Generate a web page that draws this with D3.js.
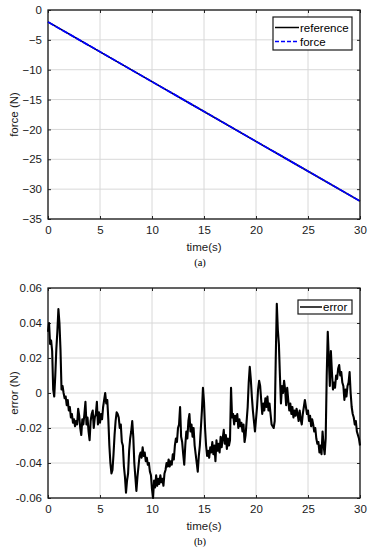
<!DOCTYPE html>
<html>
<head>
<meta charset="utf-8">
<script src="https://cdn.jsdelivr.net/npm/d3@7"></script>
<style>
  body { margin: 0; background: #fff; }
  svg text { font-family: "Liberation Sans", Arial, sans-serif; }
</style>
</head>
<body>
<div id="chart"></div>
<script>
// ---- data ----
var forceTime = [0, 5, 10, 15, 20, 25, 30];
var referenceValues = [-2, -7, -12, -17, -22, -27, -32];
var forceValues = [-2, -7, -12, -17, -22, -27, -32];

var forceTicksX = [0, 5, 10, 15, 20, 25, 30];
var forceTicksY = [0, -5, -10, -15, -20, -25, -30, -35];
var errorTicksY = [0.06, 0.04, 0.02, 0, -0.02, -0.04, -0.06];

var errorValues = [
  0.035, 0.040, 0.028, 0.030, 0.024, 0.002, -0.002, 0.010, 0.025, 0.035,
  0.048, 0.040, 0.025, 0.002, 0.004, 0.000, -0.003, -0.002, -0.007, -0.004,
  -0.010, -0.008, -0.014, -0.012, -0.017, -0.015, -0.019, -0.016, -0.018, -0.009,
  -0.013, -0.020, -0.024, -0.015, -0.018, -0.012, -0.005, -0.018, -0.014, -0.022,
  -0.027, -0.016, -0.012, -0.010, -0.020, -0.014, -0.012, -0.005, -0.018, -0.011,
  -0.017, -0.012, -0.015, -0.008, -0.004, 0.000, -0.006, -0.004, -0.015, -0.030,
  -0.040, -0.046, -0.044, -0.035, -0.024, -0.016, -0.011, -0.012, -0.014, -0.020,
  -0.018, -0.028, -0.030, -0.042, -0.048, -0.057, -0.050, -0.046, -0.033, -0.026,
  -0.022, -0.016, -0.025, -0.040, -0.048, -0.056, -0.048, -0.042, -0.036, -0.034,
  -0.037, -0.031, -0.036, -0.034, -0.039, -0.037, -0.041, -0.040, -0.045, -0.047,
  -0.055, -0.060, -0.050, -0.054, -0.047, -0.053, -0.049, -0.052, -0.047, -0.051,
  -0.049, -0.053, -0.046, -0.044, -0.040, -0.042, -0.038, -0.042, -0.039, -0.041,
  -0.035, -0.038, -0.030, -0.026, -0.028, -0.020, -0.018, -0.008, -0.025, -0.028,
  -0.035, -0.041, -0.030, -0.022, -0.026, -0.016, -0.012, -0.022, -0.018, -0.025,
  -0.020, -0.030, -0.035, -0.040, -0.045, -0.036, -0.030, -0.020, -0.010, 0.003,
  -0.005, -0.020, -0.030, -0.036, -0.033, -0.037, -0.031, -0.034, -0.028, -0.035,
  -0.030, -0.039, -0.027, -0.033, -0.029, -0.034, -0.025, -0.031, -0.026, -0.021,
  -0.029, -0.024, -0.032, -0.026, -0.030, -0.027, 0.003, -0.014, -0.012, -0.018,
  -0.013, -0.016, -0.012, -0.020, -0.015, -0.019, -0.017, -0.022, -0.018, -0.028,
  -0.024, -0.016, -0.008, 0.006, 0.015, 0.008, -0.002, -0.010, -0.016, -0.022,
  -0.015, -0.008, 0.002, 0.007, 0.004, -0.004, -0.012, -0.006, -0.010, -0.003,
  -0.008, -0.002, -0.010, -0.006, -0.012, -0.018, -0.019, -0.020, -0.016, 0.020,
  0.051, 0.036, 0.028, 0.010, -0.006, 0.004, 0.000, 0.007, 0.002, -0.007,
  0.003, -0.004, -0.010, -0.006, -0.012, -0.008, -0.014, -0.010, -0.013, -0.009,
  -0.012, -0.016, -0.010, -0.015, -0.018, -0.012, -0.008, -0.004, -0.008, -0.012,
  -0.010, -0.016, -0.013, -0.019, -0.015, -0.018, -0.022, -0.020, -0.026, -0.029,
  -0.028, -0.034, -0.030, -0.035, -0.022, -0.030, -0.035, -0.026, 0.010, 0.035,
  0.020, 0.004, 0.024, 0.012, 0.002, 0.006, 0.003, 0.010, 0.008, 0.014,
  0.016, 0.010, 0.012, 0.006, 0.004, -0.004, 0.002, -0.002, 0.004, 0.006,
  0.012, 0.000, -0.008, -0.012, -0.014, -0.018, -0.016, -0.022, -0.024, -0.026,
  -0.030
];

var WIDTH = 371, HEIGHT = 550,
    LEFT = 48, RIGHT = 360;

var svg = d3.select("#chart").append("svg")
  .attr("width", WIDTH)
  .attr("height", HEIGHT);

// draws one matlab-style panel, returns the scales
function panel(top, bottom, yDomain, yTicks, yFormat, yLabel, caption) {
  var x = d3.scaleLinear().domain([0, 30]).range([LEFT, RIGHT]),
      y = d3.scaleLinear().domain(yDomain).range([bottom, top]),
      g = svg.append("g");

  // grid
  g.selectAll("line.gx").data(forceTicksX).enter().append("line")
    .attr("x1", function(d) { return x(d); }).attr("x2", function(d) { return x(d); })
    .attr("y1", top).attr("y2", bottom)
    .attr("stroke", "#d8d8d8").attr("stroke-width", 1);
  g.selectAll("line.gy").data(yTicks).enter().append("line")
    .attr("y1", function(d) { return y(d); }).attr("y2", function(d) { return y(d); })
    .attr("x1", LEFT).attr("x2", RIGHT)
    .attr("stroke", "#d8d8d8").attr("stroke-width", 1);

  // axes, ticks pointing inward on all four sides
  g.append("g").attr("transform", "translate(0," + bottom + ")")
    .call(d3.axisBottom(x).tickValues(forceTicksX).tickSizeInner(-3).tickSizeOuter(0).tickPadding(7));
  g.append("g").attr("transform", "translate(0," + top + ")")
    .call(d3.axisTop(x).tickValues(forceTicksX).tickSizeInner(-3).tickSizeOuter(0).tickFormat(""));
  g.append("g").attr("transform", "translate(" + LEFT + ",0)")
    .call(d3.axisLeft(y).tickValues(yTicks).tickSizeInner(-3).tickSizeOuter(0).tickPadding(6).tickFormat(yFormat));
  g.append("g").attr("transform", "translate(" + RIGHT + ",0)")
    .call(d3.axisRight(y).tickValues(yTicks).tickSizeInner(-3).tickSizeOuter(0).tickFormat(""));

  g.selectAll(".domain").remove();
  g.selectAll(".tick line").attr("stroke", "#262626");
  g.selectAll(".tick text").attr("font-size", 11.5).attr("fill", "#1a1a1a")
    .attr("font-family", "'Liberation Sans', Arial, sans-serif");

  g.append("rect")
    .attr("x", LEFT).attr("y", top)
    .attr("width", RIGHT - LEFT).attr("height", bottom - top)
    .attr("fill", "none").attr("stroke", "#1a1a1a").attr("stroke-width", 1.3);

  g.append("text")
    .attr("x", (LEFT + RIGHT) / 2).attr("y", bottom + 32)
    .attr("text-anchor", "middle").attr("font-size", 11.5).attr("fill", "#1a1a1a")
    .text("time(s)");
  g.append("text")
    .attr("transform", "translate(18," + ((top + bottom) / 2) + ") rotate(-90)")
    .attr("text-anchor", "middle").attr("font-size", 11.5).attr("fill", "#1a1a1a")
    .text(yLabel);
  g.append("text")
    .attr("x", (LEFT + RIGHT) / 2 - 4).attr("y", bottom + 47)
    .attr("text-anchor", "middle").attr("font-size", 10.5)
    .style("font-family", "'Liberation Serif', 'Times New Roman', serif")
    .text(caption);

  return {x: x, y: y, g: g};
}

// ---- (a) force tracking ----
var pa = panel(10, 219, [-35, 0], forceTicksY, d3.format("d"), "force (N)", "(a)");

var lineA = d3.line()
  .x(function(d) { return pa.x(d[0]); })
  .y(function(d) { return pa.y(d[1]); });

pa.g.append("path")
  .datum(d3.zip(forceTime, referenceValues))
  .attr("d", lineA)
  .attr("fill", "none").attr("stroke", "#000").attr("stroke-width", 1.5);
pa.g.append("path")
  .datum(d3.zip(forceTime, forceValues))
  .attr("d", lineA)
  .attr("fill", "none").attr("stroke", "#0000ff").attr("stroke-width", 1.8)
  .attr("stroke-dasharray", "7,1");

var legA = pa.g.append("g").attr("transform", "translate(273,17)");
legA.append("rect").attr("width", 79).attr("height", 33)
  .attr("fill", "#fff").attr("stroke", "#1a1a1a").attr("stroke-width", 1.2);
legA.append("line").attr("x1", 2).attr("x2", 26).attr("y1", 10.5).attr("y2", 10.5)
  .attr("stroke", "#000").attr("stroke-width", 1.5);
legA.append("line").attr("x1", 2).attr("x2", 26).attr("y1", 24.5).attr("y2", 24.5)
  .attr("stroke", "#0000ff").attr("stroke-width", 1.5).attr("stroke-dasharray", "4,2");
legA.append("text").attr("x", 27).attr("y", 14.5).attr("font-size", 11.5).text("reference");
legA.append("text").attr("x", 27).attr("y", 28.5).attr("font-size", 11.5).text("force");

// ---- (b) error ----
var pb = panel(288, 498, [-0.06, 0.06], errorTicksY,
  function(d) { return d === 0 ? "0" : d3.format(".2f")(d).replace("\u2212", "-"); },
  "error (N)", "(b)");

var lineB = d3.line()
  .x(function(d, i) { return pb.x(i / 10); })
  .y(function(d) { return pb.y(d); });

pb.g.append("path")
  .datum(errorValues)
  .attr("d", lineB)
  .attr("fill", "none").attr("stroke", "#000").attr("stroke-width", 2.1)
  .attr("stroke-linejoin", "round");

var legB = pb.g.append("g").attr("transform", "translate(298,300)");
legB.append("rect").attr("width", 54).attr("height", 14)
  .attr("fill", "#fff").attr("stroke", "#1a1a1a").attr("stroke-width", 1.2);
legB.append("line").attr("x1", 2).attr("x2", 24).attr("y1", 7).attr("y2", 7)
  .attr("stroke", "#000").attr("stroke-width", 1.5);
legB.append("text").attr("x", 25).attr("y", 11).attr("font-size", 11.5).text("error");
</script>
</body>
</html>
